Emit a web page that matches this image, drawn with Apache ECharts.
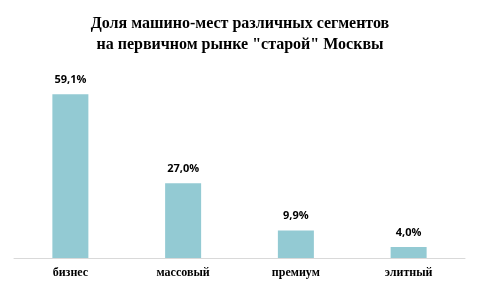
<!DOCTYPE html>
<html><head><meta charset="utf-8">
<script src="https://cdn.jsdelivr.net/npm/echarts@6/dist/echarts.min.js"></script>
<style>html,body{margin:0;padding:0;background:#fff}#c{width:480px;height:288px}</style>
</head><body><div id="c"></div>
<script>
const categories = ["бизнес", "массовый", "премиум", "элитный"];
const values = [59.1, 27.0, 9.9, 4.0];
const titleText = 'Доля машино-мест различных сегментов\nна первичном рынке "старой" Москвы';

const chart = echarts.init(document.getElementById('c'), null, {renderer: 'canvas'});
chart.setOption({
  animation: false,
  backgroundColor: '#fff',
  title: {
    text: titleText,
    left: 'center',
    top: 8,
    textStyle: {fontFamily: 'Liberation Serif', fontWeight: 'bold', fontSize: 16, lineHeight: 21, color: '#000'}
  },
  grid: {left: 14, right: 15, top: 64, bottom: 30},
  xAxis: {
    type: 'category',
    data: categories,
    axisLine: {lineStyle: {color: '#d9d9d9', width: 1}},
    axisTick: {show: false},
    axisLabel: {fontFamily: 'Liberation Serif', fontWeight: 'bold', fontSize: 12, color: '#000', margin: 9}
  },
  yAxis: {type: 'value', min: 0, max: 70, show: false, splitLine: {show: false}},
  series: [{
    type: 'bar',
    data: values,
    barWidth: 36,
    itemStyle: {color: '#93CAD3'},
    label: {
      show: true, position: 'top', distance: 9,
      formatter: p => p.value.toFixed(1).replace('.', ',') + '%',
      fontFamily: 'Open Sans', fontWeight: 'bold', fontSize: 11, color: '#000'
    }
  }]
});
</script></body></html>
